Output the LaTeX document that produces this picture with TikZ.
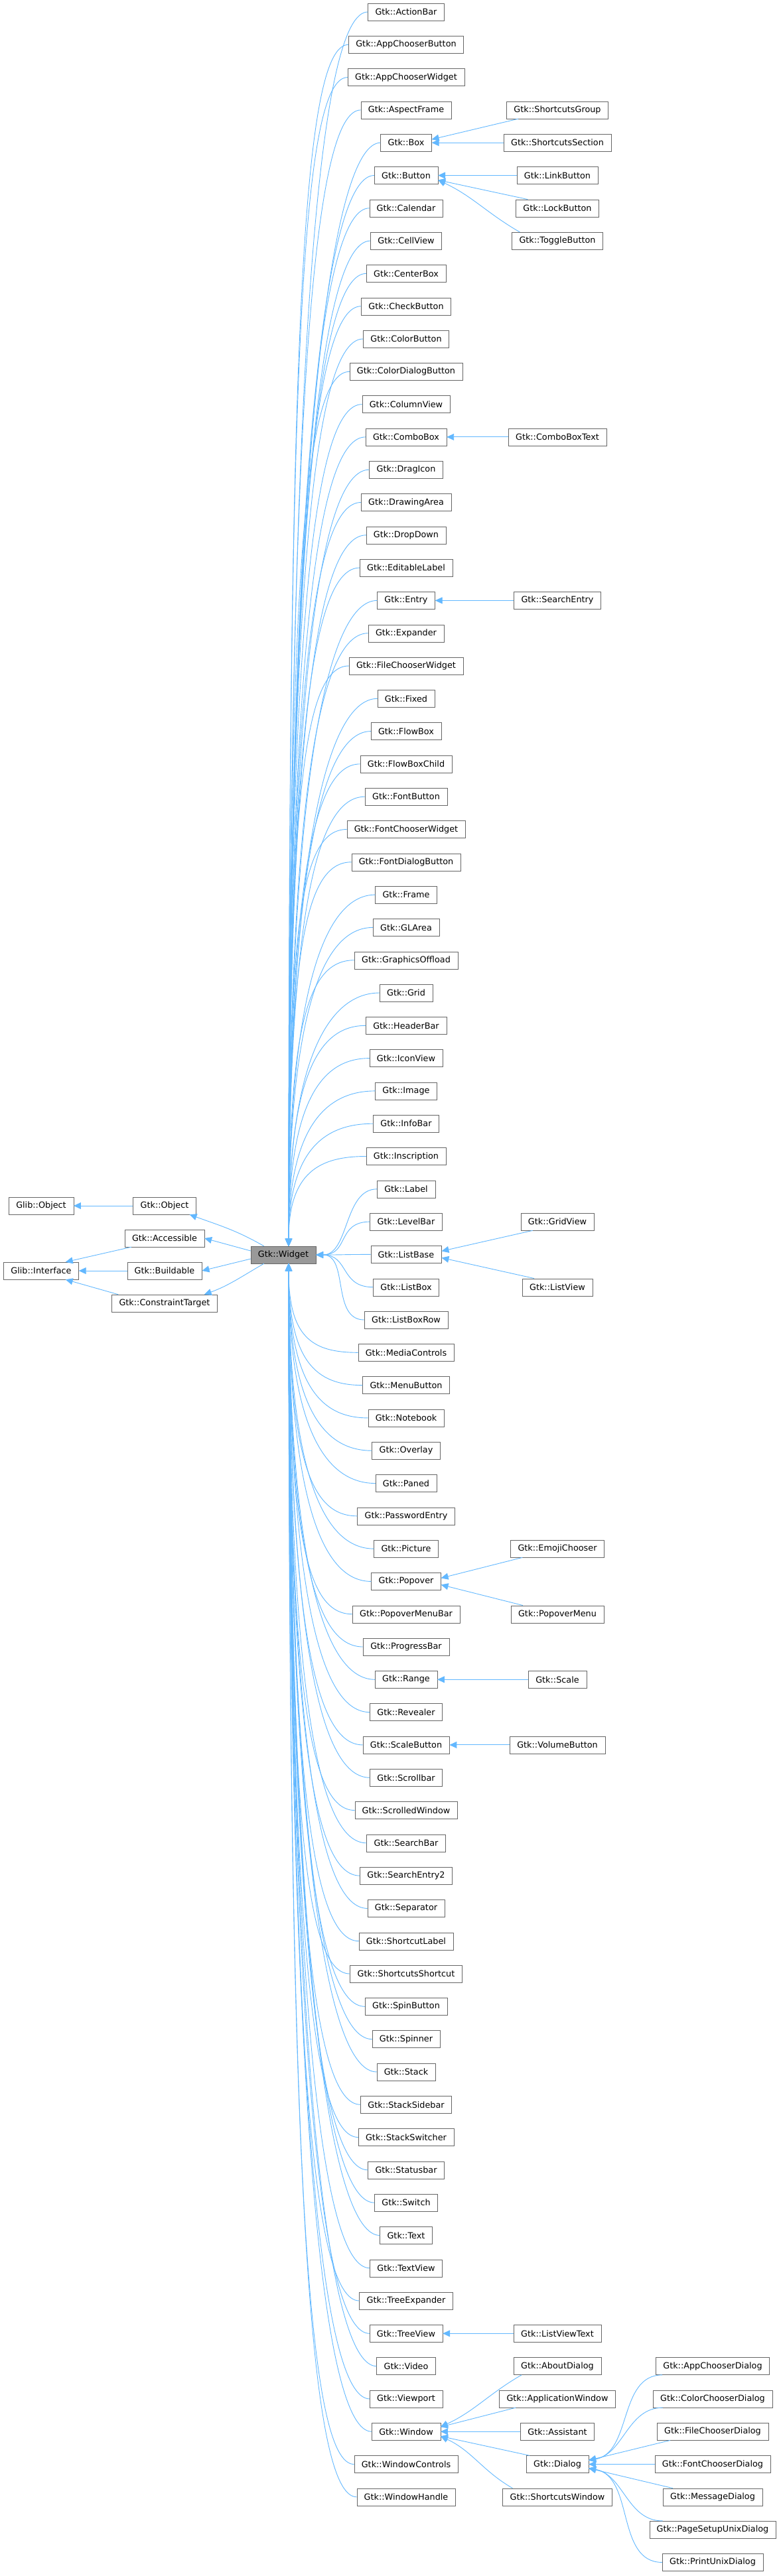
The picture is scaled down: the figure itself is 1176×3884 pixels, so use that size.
\documentclass[tikz,border=0pt]{standalone}
\usepackage{fontspec}
\setmainfont{DejaVu Sans}
\usetikzlibrary{arrows.meta}

\definecolor{edgeblue}{RGB}{99,184,255}
\tikzset{
  cls/.style={draw=black!60,rectangle,inner xsep=11pt,inner ysep=0pt,
              minimum height=26pt,fill=white,
              font=\fontsize{12.8}{14}\selectfont},
  cur/.style={cls,fill=black!40},
  inh/.style={{Triangle[length=11pt,width=10pt]}-,draw=edgeblue,
              line width=0.9pt}
}

\begin{document}
\begin{tikzpicture}[x=1pt,y=-1pt]
	\useasboundingbox (0,0) rectangle (1176,3884);
	% base classes
	\node[cls]	(GlibObject)	at (62,1818)	{Glib::Object};
	\node[cls]	(GlibIface)	at (62,1916)	{Glib::Interface};
	\node[cls]	(GtkObject)	at (248,1818)	{Gtk::Object};
	\node[cls]	(Accessible)	at (248,1867)	{Gtk::Accessible};
	\node[cls]	(Buildable)	at (248,1916)	{Gtk::Buildable};
	\node[cls]	(Constraint)	at (248,1965)	{Gtk::ConstraintTarget};
	\node[cur]	(Widget)	at (427,1892)	{Gtk::Widget};
	\draw[inh]	(GlibObject.east) -- (GtkObject.west);
	\draw[inh]	([xshift=-20pt]GlibIface.north east) -- ([xshift=10pt]Accessible.south west);
	\draw[inh]	(GlibIface.east) -- (Buildable.west);
	\draw[inh]	([xshift=-20pt]GlibIface.south east) -- ([xshift=10pt]Constraint.north west);
	\draw[inh]	([xshift=-10pt]GtkObject.south east) to[out=-20,in=150] ([xshift=20pt]Widget.north west);
	\draw[inh]	(Accessible.east) -- ([yshift=6pt]Widget.west);
	\draw[inh]	(Buildable.east) -- ([yshift=-6pt]Widget.west);
	\draw[inh]	([xshift=-20pt]Constraint.north east) to[out=20,in=-150] ([xshift=20pt]Widget.south west);
	% direct subclasses of Gtk::Widget
	\foreach \n [count=\i] in {ActionBar,AppChooserButton,AppChooserWidget,
		AspectFrame,Box,Button,Calendar,CellView,CenterBox,CheckButton,
		ColorButton,ColorDialogButton,ColumnView,ComboBox,DragIcon,DrawingArea,
		DropDown,EditableLabel,Entry,Expander,FileChooserWidget,Fixed,FlowBox,
		FlowBoxChild,FontButton,FontChooserWidget,FontDialogButton,Frame,GLArea,
		GraphicsOffload,Grid,HeaderBar,IconView,Image,InfoBar,Inscription,Label,
		LevelBar,ListBase,ListBox,ListBoxRow,MediaControls,MenuButton,Notebook,
		Overlay,Paned,PasswordEntry,Picture,Popover,PopoverMenuBar,ProgressBar,
		Range,Revealer,ScaleButton,Scrollbar,ScrolledWindow,SearchBar,
		SearchEntry2,Separator,ShortcutLabel,ShortcutsShortcut,SpinButton,
		Spinner,Stack,StackSidebar,StackSwitcher,Statusbar,Switch,Text,TextView,
		TreeExpander,TreeView,Video,Viewport,Window,WindowControls,WindowHandle}
	{
		\pgfmathsetmacro\yy{18+49.3*(\i-1)}
		\node[cls] (\n) at (612,\yy) {Gtk::\n};
		\pgfmathsetmacro\dy{\yy-1892}
		\pgfmathsetmacro\cy{0.75*\dy}
		\ifdim \dy pt < -100pt
			\draw[inh] ([xshift=8pt]Widget.north) .. controls +(0,\cy) and +(-70,0) .. (\n.west);
		\else\ifdim \dy pt > 100pt
			\draw[inh] ([xshift=8pt]Widget.south) .. controls +(0,\cy) and +(-70,0) .. (\n.west);
		\else
			\draw[inh] (Widget.east) .. controls +(50,0) and +(-50,0) .. (\n.west);
		\fi\fi
	}
	% second level
	\node[cls]	(ShortcutsGroup)	at (840,{18+49.3*3})	{Gtk::ShortcutsGroup};
	\node[cls]	(ShortcutsSection)	at (840,{18+49.3*4})	{Gtk::ShortcutsSection};
	\node[cls]	(LinkButton)	at (840,{18+49.3*5})	{Gtk::LinkButton};
	\node[cls]	(LockButton)	at (840,{18+49.3*6})	{Gtk::LockButton};
	\node[cls]	(ToggleButton)	at (840,{18+49.3*7})	{Gtk::ToggleButton};
	\node[cls]	(ComboBoxText)	at (840,{18+49.3*13})	{Gtk::ComboBoxText};
	\node[cls]	(SearchEntry)	at (840,{18+49.3*18})	{Gtk::SearchEntry};
	\node[cls]	(GridView)	at (840,{18+49.3*37})	{Gtk::GridView};
	\node[cls]	(ListView)	at (840,{18+49.3*39})	{Gtk::ListView};
	\node[cls]	(EmojiChooser)	at (840,{18+49.3*47})	{Gtk::EmojiChooser};
	\node[cls]	(PopoverMenu)	at (840,{18+49.3*49})	{Gtk::PopoverMenu};
	\node[cls]	(Scale)	at (840,{18+49.3*51})	{Gtk::Scale};
	\node[cls]	(VolumeButton)	at (840,{18+49.3*53})	{Gtk::VolumeButton};
	\node[cls]	(ListViewText)	at (840,{18+49.3*71})	{Gtk::ListViewText};
	\node[cls]	(AboutDialog)	at (840,{18+49.3*72})	{Gtk::AboutDialog};
	\node[cls]	(AppWindow)	at (840,{18+49.3*73})	{Gtk::ApplicationWindow};
	\node[cls]	(Assistant)	at (840,{18+49.3*74})	{Gtk::Assistant};
	\node[cls]	(Dialog)	at (840,{18+49.3*75})	{Gtk::Dialog};
	\node[cls]	(ShortcutsWindow)	at (840,{18+49.3*76})	{Gtk::ShortcutsWindow};
	\draw[inh]	([yshift=5pt]Box.east) -- ([xshift=18pt]ShortcutsGroup.south west);
	\draw[inh]	(Box.east) -- (ShortcutsSection.west);
	\draw[inh]	(Button.east) -- (LinkButton.west);
	\draw[inh]	([yshift=-7pt]Button.east) -- ([xshift=18pt]LockButton.north west);
	\draw[inh]	([yshift=-7pt]Button.east) to[out=-25,in=150] ([xshift=12pt]ToggleButton.north west);
	\draw[inh]	(ComboBox.east) -- (ComboBoxText.west);
	\draw[inh]	(Entry.east) -- (SearchEntry.west);
	\draw[inh]	([yshift=5pt]ListBase.east) -- ([xshift=18pt]GridView.south west);
	\draw[inh]	([yshift=-5pt]ListBase.east) -- ([xshift=18pt]ListView.north west);
	\draw[inh]	([yshift=5pt]Popover.east) -- ([xshift=18pt]EmojiChooser.south west);
	\draw[inh]	([yshift=-5pt]Popover.east) -- ([xshift=18pt]PopoverMenu.north west);
	\draw[inh]	(Range.east) -- (Scale.west);
	\draw[inh]	(ScaleButton.east) -- (VolumeButton.west);
	\draw[inh]	(TreeView.east) -- (ListViewText.west);
	\draw[inh]	([yshift=7pt]Window.east) to[out=25,in=-150] ([xshift=12pt]AboutDialog.south west);
	\draw[inh]	([yshift=7pt]Window.east) -- ([xshift=25pt]AppWindow.south west);
	\draw[inh]	(Window.east) -- (Assistant.west);
	\draw[inh]	([yshift=-7pt]Window.east) -- ([xshift=5pt]Dialog.north west);
	\draw[inh]	([yshift=-7pt]Window.east) to[out=-25,in=150] ([xshift=15pt]ShortcutsWindow.north west);
	% subclasses of Gtk::Dialog
	\foreach \n [count=\i from 72] in {AppChooserDialog,ColorChooserDialog,
		FileChooserDialog,FontChooserDialog,MessageDialog,PageSetupUnixDialog,
		PrintUnixDialog}
	{
		\node[cls] (\n) at (1074,{18+49.3*\i}) {Gtk::\n};
	}
	\draw[inh]	([yshift=6pt]Dialog.east) to[out=10,in=180] ([xshift=10pt]AppChooserDialog.south west);
	\draw[inh]	([yshift=6pt]Dialog.east) to[out=10,in=180] ([xshift=15pt]ColorChooserDialog.south west);
	\draw[inh]	([yshift=6pt]Dialog.east) -- ([xshift=20pt]FileChooserDialog.south west);
	\draw[inh]	(Dialog.east) -- (FontChooserDialog.west);
	\draw[inh]	([yshift=-6pt]Dialog.east) -- ([xshift=15pt]MessageDialog.north west);
	\draw[inh]	([yshift=-6pt]Dialog.east) to[out=-10,in=180] ([xshift=20pt]PageSetupUnixDialog.north west);
	\draw[inh]	([yshift=-6pt]Dialog.east) to[out=-10,in=180] (PrintUnixDialog.west);
\end{tikzpicture}
\end{document}
